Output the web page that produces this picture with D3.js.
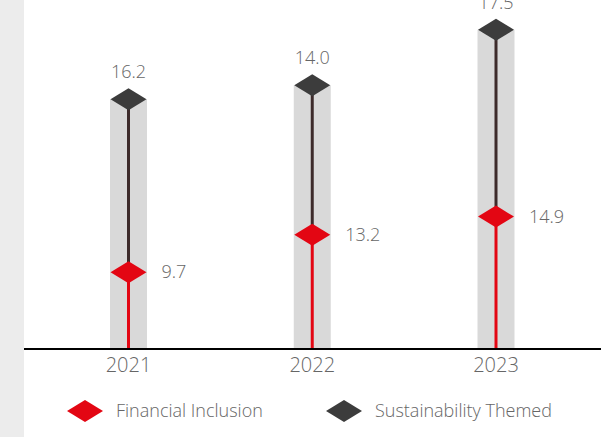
<!DOCTYPE html>
<head>
  <meta charset="utf-8">
  <script src="https://d3js.org/d3.v7.min.js"></script>
  <style>
body { margin: 0; background: #fff; }
text {
    font-family: "Open Sans", sans-serif;
    font-weight: 300;
    fill: #666;
}
.value { font-size: 18px; }
.year { font-size: 20px; }
.legend text { font-size: 18px; }
  </style>
</head>

<body>
  <script>

    var years = ["2021", "2022", "2023"];
    var financialInclusion = [9.7, 13.2, 14.9];
    var sustainabilityThemed = [16.2, 14.0, 17.5];
    var seriesNames = ["Financial Inclusion", "Sustainability Themed"];

    var width = 601, height = 437;
    var baseline = 349;
    var red = "#e30613", dark = "#3c3c3c";

    var svg = d3.select("body").append("svg")
      .attr("width", width)
      .attr("height", height);

    // light grey strip on the left
    svg.append("rect")
      .attr("x", 0).attr("y", 0)
      .attr("width", 24).attr("height", height)
      .attr("fill", "#ececec");

    var x = d3.scalePoint().domain(years).range([128.5, 496]);
    // the designer's axis doesn't start at zero
    var y = d3.scaleLinear().domain([2.5, 35]).range([baseline, 2]);

    var rows = years.map(function(yr, i) {
      return {year: yr, fi: financialInclusion[i], st: sustainabilityThemed[i],
              top: financialInclusion[i] + sustainabilityThemed[i]};
    });

    var diamond = "M-18,0L0,-11L18,0L0,11Z";

    var col = svg.selectAll(".col")
      .data(rows)
      .enter().append("g")
      .attr("class", "col")
      .attr("transform", d => `translate(${x(d.year)},0)`);

    col.append("rect")
      .attr("x", -18.5)
      .attr("width", 37)
      .attr("y", d => y(d.top))
      .attr("height", d => baseline - y(d.top))
      .attr("fill", "#d9d9d9");

    col.append("line")
      .attr("y1", baseline).attr("y2", d => y(d.fi))
      .attr("stroke", red).attr("stroke-width", 3);

    col.append("line")
      .attr("y1", d => y(d.fi)).attr("y2", d => y(d.top))
      .attr("stroke", "#3d2b2b").attr("stroke-width", 3);

    col.append("path")
      .attr("d", diamond)
      .attr("transform", d => `translate(0,${y(d.fi)})`)
      .attr("fill", red);

    col.append("path")
      .attr("d", diamond)
      .attr("transform", d => `translate(0,${y(d.top)})`)
      .attr("fill", dark);

    col.append("text")
      .attr("class", "value")
      .attr("text-anchor", "middle")
      .attr("y", d => y(d.top) - 21)
      .text(d => d.st.toFixed(1));

    col.append("text")
      .attr("class", "value")
      .attr("x", 33)
      .attr("y", d => y(d.fi))
      .attr("dy", "0.35em")
      .text(d => d.fi.toFixed(1));

    col.append("text")
      .attr("class", "year")
      .attr("text-anchor", "middle")
      .attr("y", baseline + 23)
      .text(d => d.year);

    // axis line
    svg.append("line")
      .attr("x1", 24).attr("x2", width)
      .attr("y1", baseline).attr("y2", baseline)
      .attr("stroke", "#000").attr("stroke-width", 2);

    // legend
    var legend = svg.append("g").attr("class", "legend")
      .selectAll("g")
      .data(seriesNames)
      .enter().append("g")
      .attr("transform", (d, i) => `translate(${85 + i * 259},411)`);

    legend.append("path")
      .attr("d", diamond)
      .attr("fill", (d, i) => i == 0 ? red : dark);

    legend.append("text")
      .attr("x", 31)
      .attr("dy", "0.35em")
      .text(d => d);

  </script>
</body>
